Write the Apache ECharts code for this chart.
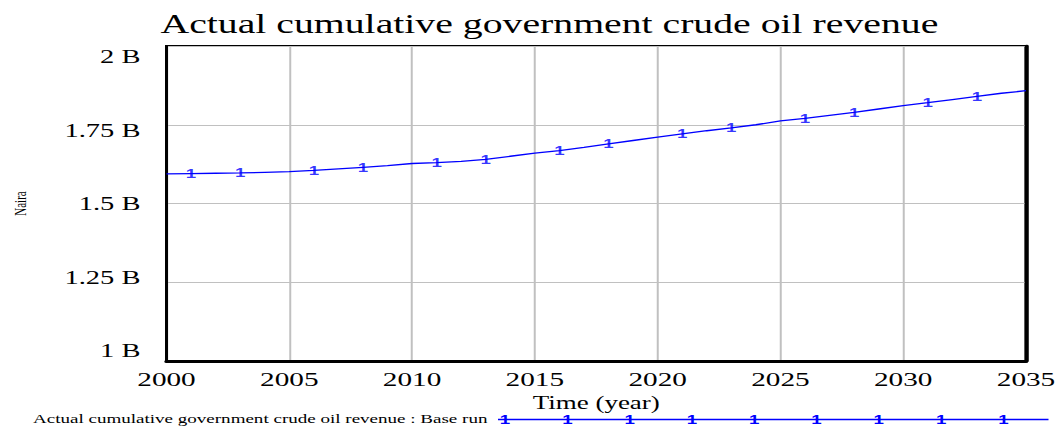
<!DOCTYPE html>
<html>
<head>
<meta charset="utf-8">
<script src="https://cdn.jsdelivr.net/npm/echarts@6/dist/echarts.min.js"></script>
<style>
html,body{margin:0;padding:0;background:#fff;overflow:hidden;}
#c{width:708px;height:428px;transform:scaleX(1.5);transform-origin:0 0;}
</style>
</head>
<body>
<div id="c"></div>
<script>
// Data (values in billions of Naira)
var years = [2000,2001,2002,2003,2004,2005,2006,2007,2008,2009,2010,2011,2012,2013,2014,2015,2016,2017,2018,2019,2020,2021,2022,2023,2024,2025,2026,2027,2028,2029,2030,2031,2032,2033,2034,2035];
var revenue = [1.594,1.595,1.596,1.597,1.599,1.601,1.605,1.610,1.615,1.620,1.627,1.630,1.634,1.640,1.650,1.660,1.668,1.678,1.689,1.700,1.711,1.721,1.731,1.740,1.750,1.762,1.770,1.780,1.789,1.800,1.811,1.820,1.830,1.840,1.850,1.858];
var markerYears = [2001,2003,2006,2008,2011,2013,2016,2018,2021,2023,2026,2028,2031,2033];
var yTicks = [1,1.25,1.5,1.75,2];
var yTickLabels = ['1 B','1.25 B','1.5 B','1.75 B','2 B'];
var xTicks = [2000,2005,2010,2015,2020,2025,2030,2035];
var titleText = 'Actual cumulative government crude oil revenue';
var legendText = 'Actual cumulative government crude oil revenue : Base run';

var lineData = years.map(function(y,i){return [y, revenue[i]];});
var markerData = markerYears.map(function(y){return [y, revenue[years.indexOf(y)]];});

var serif = '"Liberation Serif","Times New Roman",serif';
var sans = '"Liberation Sans",Arial,sans-serif';
var blue = '#0000ff';

// y labels are pulled slightly inward (toward the middle), as in the reference
var rich = {};
yTicks.forEach(function(v,i){
  var s = -(v-1.5)*21; // positive = down
  rich['t'+i] = {fontFamily:serif, fontSize:19, color:'#000',
    padding: s>=0 ? [0,0,2*s,0] : [-2*s,0,0,0]};
});

var chart = echarts.init(document.getElementById('c'), null, {renderer:'svg'});

var legendGraphics = [
  {type:'text', left:22, top:412, style:{text:legendText, font:'12.7px '+serif, fill:'#000'}},
  {type:'line', shape:{x1:332,y1:419.5,x2:699,y2:419.5}, style:{stroke:blue, lineWidth:1.5}}
];
for (var k=0;k<9;k++){
  legendGraphics.push({type:'text', x:336.7+k*41.53, y:420, style:{text:'1', font:'bold 12.5px '+sans, fill:blue, textAlign:'center', textVerticalAlign:'middle'}});
}

chart.setOption({
  animation:false,
  backgroundColor:'#fff',
  title:{text:titleText, left:102, top:5, textStyle:{fontFamily:serif, fontSize:26.5, fontWeight:'normal', color:'#000'}},
  grid:{left:107.3, right:24, top:46, bottom:67, show:true, borderColor:'#000', borderWidth:2},
  xAxis:{type:'value', min:2000, max:2035, interval:5,
    axisLine:{show:true, onZero:false, lineStyle:{color:'#000', width:3}},
    axisTick:{show:false},
    splitLine:{show:true, lineStyle:{color:'#c0c0c0', width:1.33}},
    axisLabel:{fontFamily:serif, fontSize:19.5, color:'#000', margin:8, formatter:function(v){return String(v);}},
    name:'Time (year)', nameLocation:'middle', nameGap:31,
    nameTextStyle:{fontFamily:serif, fontSize:18, color:'#000'}
  },
  yAxis:[{type:'value', min:1, max:2, interval:0.25,
    axisLine:{show:true, lineStyle:{color:'#000', width:2}},
    axisTick:{show:false},
    splitLine:{show:true, lineStyle:{color:'#c0c0c0', width:1}},
    axisLabel:{margin:17.4, rich:rich, formatter:function(v){
      var i = yTicks.indexOf(v); return '{t'+i+'|'+yTickLabels[i]+'}';}},
    name:'Naira', nameLocation:'middle', nameGap:92, nameRotate:90,
    nameTextStyle:{fontFamily:serif, fontSize:11, color:'#000'}
  },{type:'value', min:1, max:2, interval:0.25, position:'right',
    axisLine:{show:true, lineStyle:{color:'#000', width:2.7}},
    axisTick:{show:false}, axisLabel:{show:false}, splitLine:{show:false}
  }],
  series:[
    {type:'line', data:lineData, showSymbol:false, symbol:'none', lineStyle:{color:blue, width:1.3}, z:3},
    {type:'scatter', data:markerData, symbolSize:0.1, itemStyle:{color:blue},
      label:{show:true, position:'inside', formatter:'1', fontFamily:sans, fontWeight:'bold', fontSize:12.5, color:blue}, z:4}
  ],
  graphic:legendGraphics
});
</script>
</body>
</html>
